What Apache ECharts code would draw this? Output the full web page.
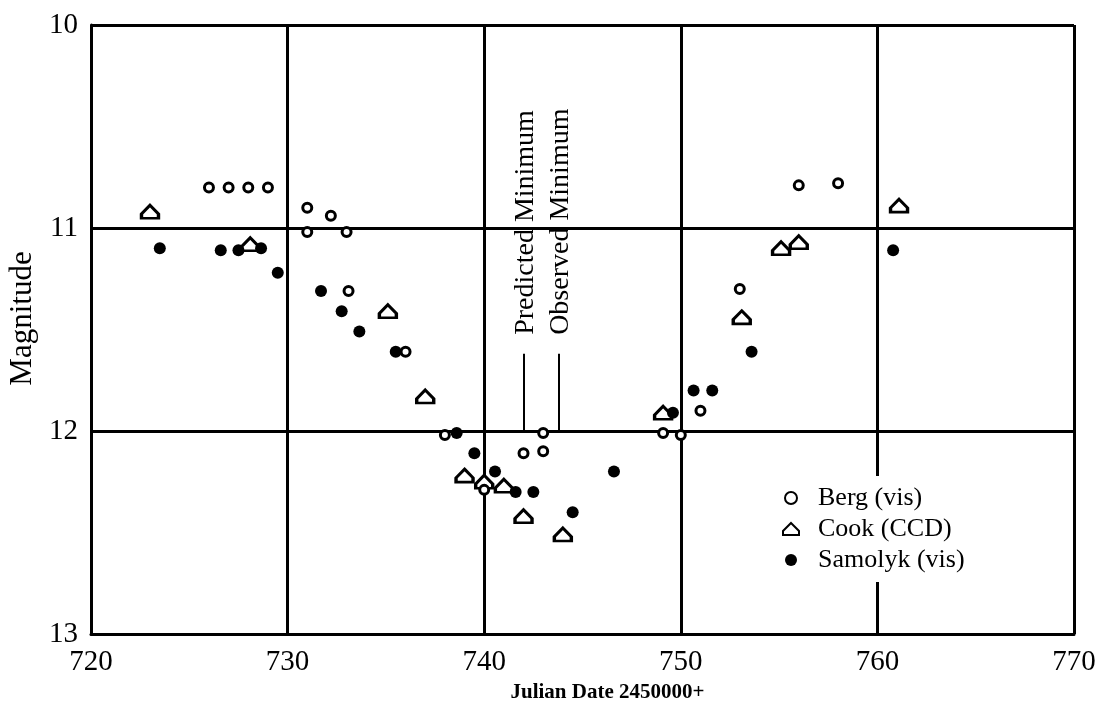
<!DOCTYPE html>
<html>
<head>
<meta charset="utf-8">
<script src="https://cdn.jsdelivr.net/npm/echarts@6/dist/echarts.min.js"></script>
<style>
  html, body { margin: 0; padding: 0; background: #fff; }
  #chart { width: 1104px; height: 710px; }
</style>
</head>
<body>
<div id="chart"></div>
<script>
// Berg (vis)
const bergX = [726, 727, 728, 729, 731, 731, 732.2, 733, 733.1, 736, 738, 740, 742, 743, 743, 749.1, 750, 751, 753, 756, 758];
const bergY = [10.80, 10.80, 10.80, 10.80, 10.90, 11.02, 10.94, 11.02, 11.31, 11.61, 12.02, 12.29, 12.11, 12.10, 12.01, 12.01, 12.02, 11.90, 11.30, 10.79, 10.78];
// Cook (CCD)
const cookX = [723, 728.1, 735.1, 737, 739, 740, 741, 742, 744, 749.1, 753.1, 755.1, 756, 761.1];
const cookY = [10.92, 11.08, 11.41, 11.83, 12.22, 12.25, 12.27, 12.42, 12.51, 11.91, 11.44, 11.10, 11.07, 10.89];
// Samolyk (vis)
const samX = [723.5, 726.6, 727.5, 728.65, 729.5, 731.7, 732.75, 733.65, 735.5, 738.6, 739.5, 740.55, 741.6, 742.5, 744.5, 746.6, 749.6, 750.65, 751.6, 753.6, 760.8];
const samY = [11.10, 11.11, 11.11, 11.10, 11.22, 11.31, 11.41, 11.51, 11.61, 12.01, 12.11, 12.20, 12.30, 12.30, 12.40, 12.20, 11.91, 11.80, 11.80, 11.61, 11.11];

const seriesNames = ['Berg (vis)', 'Cook (CCD)', 'Samolyk (vis)'];
// annotation markers (x, line from top to bottom in magnitude)
const minNames = ['Predicted Minimum', 'Observed Minimum'];
const minX = [742, 743.8];
const minTop = 11.62;
const minBottom = 12.0;

const font = 'Liberation Serif';
const pairs = (xs, ys) => xs.map((x, i) => [x, ys[i]]);
const housePath = 'path://M8,0 L16,8 L16,12 L0,12 L0,8 Z';

const myChart = echarts.init(document.getElementById('chart'));
const option = {
  animation: false,
  backgroundColor: '#fff',
  grid: { left: 91, right: 30, top: 25, bottom: 76, outerBoundsMode: 'none', containLabel: false },
  legend: {
    orient: 'vertical',
    left: 778,
    top: 476,
    padding: [8, 12, 8, 4],
    itemGap: 3,
    itemWidth: 30,
    itemHeight: 12,
    backgroundColor: '#fff',
    textStyle: { fontFamily: font, fontSize: 26, color: '#000', lineHeight: 28, padding: [0, 0, 0, 7] },
    data: seriesNames
  },
  xAxis: {
    type: 'value',
    min: 720,
    max: 770,
    interval: 10,
    name: 'Julian Date 2450000+',
    nameLocation: 'middle',
    nameGap: 48,
    nameTextStyle: { fontFamily: font, fontSize: 21, fontWeight: 'bold', color: '#000', padding: [0, 0, 0, 50] },
    axisLine: { lineStyle: { color: '#000', width: 3 } },
    axisTick: { show: false },
    axisLabel: { fontFamily: font, fontSize: 29, color: '#000', margin: 14 },
    splitLine: { lineStyle: { color: '#000', width: 3 } }
  },
  yAxis: {
    type: 'value',
    inverse: true,
    min: 10,
    max: 13,
    interval: 1,
    name: 'Magnitude',
    nameLocation: 'middle',
    nameGap: 52,
    nameTextStyle: { fontFamily: font, fontSize: 31, color: '#000', padding: [0, 0, 0, 22] },
    axisLine: { lineStyle: { color: '#000', width: 3 } },
    axisTick: { show: false },
    axisLabel: { fontFamily: font, fontSize: 29, color: '#000', margin: 13 },
    splitLine: { lineStyle: { color: '#000', width: 3 } }
  },
  series: [
    {
      name: seriesNames[0],
      type: 'scatter',
      symbol: 'circle',
      symbolSize: 9,
      itemStyle: { color: '#fff', borderColor: '#000', borderWidth: 3, opacity: 1 },
      data: pairs(bergX, bergY),
      z: 3
    },
    {
      name: seriesNames[1],
      type: 'scatter',
      symbol: housePath,
      symbolSize: [17, 13],
      itemStyle: { color: '#fff', borderColor: '#000', borderWidth: 3, opacity: 1 },
      data: pairs(cookX, cookY),
      z: 2
    },
    {
      name: seriesNames[2],
      type: 'scatter',
      symbol: 'circle',
      symbolSize: 12,
      itemStyle: { color: '#000', opacity: 1 },
      data: pairs(samX, samY),
      z: 4,
      markLine: {
        silent: true,
        symbol: 'none',
        label: { show: false },
        lineStyle: { color: '#000', width: 2, type: 'solid' },
        data: minX.map(x => [{ coord: [x, minTop] }, { coord: [x, minBottom] }])
      }
    }
  ]
};
myChart.setOption(option);

// rotated labels above the minimum markers
const labels = minX.map((x, i) => {
  const p = myChart.convertToPixel({ gridIndex: 0 }, [x, minTop]);
  return {
    type: 'text',
    x: p[0] + 2,
    y: p[1] - 19,
    rotation: Math.PI / 2,
    style: {
      text: minNames[i],
      font: '28px "Liberation Serif"',
      fill: '#000',
      align: 'left',
      verticalAlign: 'middle'
    },
    z: 10
  };
});
myChart.setOption({ graphic: labels });
</script>
</body>
</html>
